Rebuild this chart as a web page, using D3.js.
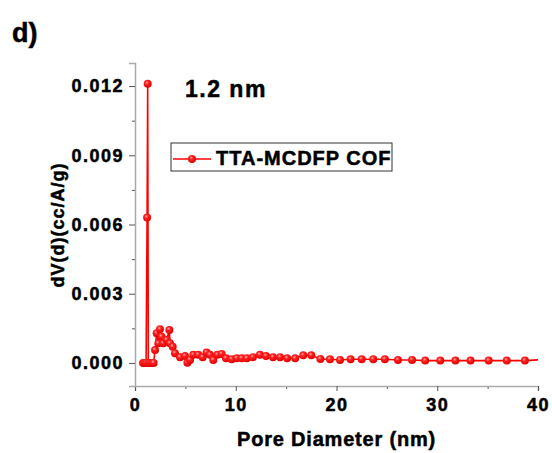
<!DOCTYPE html>
<html>
<head>
<meta charset="utf-8">
<script src="https://cdn.jsdelivr.net/npm/d3@7"></script>
<style>
  body { margin: 0; background: #fff; }
  text { font-family: "Liberation Sans", Arial, sans-serif; font-weight: bold; fill: #000; stroke: #000; stroke-width: 0.5px; }
</style>
</head>
<body>
<div id="chart"></div>
<script>
// pore diameter (nm) and dV(d) values
var poreDiameter = [0.8, 0.95, 1.1, 1.2, 1.26, 1.32, 1.5, 1.7, 1.85,
  1.99, 2.15, 2.32, 2.48, 2.64, 2.81, 3.14, 3.41, 3.47, 3.74, 3.97, 4.47, 4.96, 5.2, 5.46, 5.79,
  6.28, 6.72, 7.11, 7.44, 7.77, 8.17, 8.6, 9.03, 9.6, 10.1, 10.6, 11.1, 11.7, 12.4, 13.0, 13.7,
  14.4, 15.1, 15.9, 16.7, 17.5, 18.4, 19.35, 20.35, 21.4, 22.5, 23.65, 24.8, 26.1, 27.5, 28.8,
  30.3, 31.8, 33.3, 35.1, 36.9, 38.7, 40.6];
var dV = [0, 0, 0, 0.0063, 0.0121, 0, 0, 0, 0,
  0.00056, 0.00129, 0.00085, 0.00146, 0.00114, 0.00085, 0.0010, 0.00143, 0.00085, 0.0007, 0.00042, 0.00025, 0.0003, 0.00001, 0.00013, 0.00035,
  0.00035, 0.00025, 0.00045, 0.00035, 0.00013, 0.00035, 0.00039, 0.0002, 0.00016, 0.0002, 0.0002, 0.0002, 0.00025, 0.00035, 0.0003, 0.00025,
  0.00025, 0.0002, 0.0002, 0.00033, 0.00033, 0.00017, 0.00016, 0.00013, 0.00016, 0.00016, 0.00016, 0.00016, 0.00013, 0.00013, 0.0001,
  0.0001, 0.0001, 0.0001, 0.0001, 0.0001, 0.0001, 0.00015];
var xTicks = [0, 10, 20, 30, 40];
var yTicks = [0, 0.003, 0.006, 0.009, 0.012];
var seriesName = "TTA-MCDFP COF";

var svgWidth = 552, svgHeight = 453;
var margin = { top: 63, right: 14, bottom: 67, left: 135 };
var width = svgWidth - margin.left - margin.right;
var height = svgHeight - margin.top - margin.bottom;

var svg = d3.select("#chart").append("svg")
  .attr("width", svgWidth).attr("height", svgHeight);

// sphere-like marker fill
var grad = svg.append("defs").append("radialGradient")
  .attr("id", "ball").attr("cx", "40%").attr("cy", "35%").attr("r", "65%");
grad.append("stop").attr("offset", "0%").attr("stop-color", "#ffb0b0");
grad.append("stop").attr("offset", "35%").attr("stop-color", "#ff2020");
grad.append("stop").attr("offset", "100%").attr("stop-color", "#e00000");

svg.append("clipPath").attr("id", "clip").append("rect")
  .attr("x", -6).attr("y", -6).attr("width", width + 6).attr("height", height + 12);

var g = svg.append("g").attr("transform", `translate(${margin.left},${margin.top})`);

var x = d3.scaleLinear().domain([0, 40]).range([0, width]);
var y = d3.scaleLinear().domain([-0.001, 0.013]).range([height, 0]);

var data = poreDiameter.map((d, i) => ({ x: d, y: dV[i] }));

// minor ticks
g.append("g").attr("transform", `translate(0,${height})`)
  .call(d3.axisBottom(x).tickValues(d3.range(5, 40, 10)).tickSize(3).tickFormat(""))
  .call(a => a.select(".domain").remove())
  .call(a => a.selectAll("line").attr("stroke", "#555"));
g.append("g")
  .call(d3.axisLeft(y).tickValues(d3.range(0.0015, 0.013, 0.003)).tickSize(3).tickFormat(""))
  .call(a => a.select(".domain").remove())
  .call(a => a.selectAll("line").attr("stroke", "#555"));

// major axes
var xAxis = g.append("g").attr("transform", `translate(0,${height})`)
  .call(d3.axisBottom(x).tickValues(xTicks).tickSize(5).tickPadding(7).tickFormat(d3.format("d")));
var yAxis = g.append("g")
  .call(d3.axisLeft(y).tickValues(yTicks).tickSize(6).tickPadding(5).tickFormat(d3.format(".3f")));
[xAxis, yAxis].forEach(function (a) {
  a.select(".domain").attr("stroke", "#aaa").attr("stroke-width", 1.5);
  a.selectAll("line").attr("stroke", "#555");
  a.selectAll("text").attr("fill", "#000").style("font-size", "18px").style("letter-spacing", "1.5px");
});

var plot = g.append("g").attr("clip-path", "url(#clip)");

plot.append("path").datum(data)
  .attr("fill", "none").attr("stroke", "#ff0000").attr("stroke-width", 1.6)
  .attr("d", d3.line().x(d => x(d.x)).y(d => y(d.y)));

plot.selectAll("circle").data(data).join("circle")
  .attr("cx", d => x(d.x)).attr("cy", d => y(d.y)).attr("r", 4)
  .attr("fill", "url(#ball)");

// axis titles
svg.append("text").attr("x", margin.left + width / 2).attr("y", 446)
  .attr("text-anchor", "middle").style("font-size", "20px").style("letter-spacing", "0.8px")
  .text("Pore Diameter (nm)");
svg.append("text").attr("transform", "translate(64,225) rotate(-90)")
  .attr("text-anchor", "middle").style("font-size", "18px").style("letter-spacing", "1px")
  .text("dV(d)(cc/A/g)");

// panel label and annotation
svg.append("text").attr("x", 12).attr("y", 42).style("font-size", "27px").text("d)");
svg.append("text").attr("x", 185).attr("y", 97).style("font-size", "23px").style("letter-spacing", "1.5px")
  .text("1.2 nm");

// legend
var leg = svg.append("g").attr("transform", "translate(171,143)");
leg.append("rect").attr("width", 221).attr("height", 28)
  .attr("fill", "#fff").attr("stroke", "#333").attr("stroke-width", 1);
leg.append("line").attr("x1", 2).attr("x2", 40).attr("y1", 16).attr("y2", 16)
  .attr("stroke", "#ff0000").attr("stroke-width", 1.6);
leg.append("circle").attr("cx", 21).attr("cy", 16).attr("r", 4).attr("fill", "url(#ball)");
leg.append("text").attr("x", 45).attr("y", 22).style("font-size", "20px").style("letter-spacing", "1px")
  .text(seriesName);
</script>
</body>
</html>
